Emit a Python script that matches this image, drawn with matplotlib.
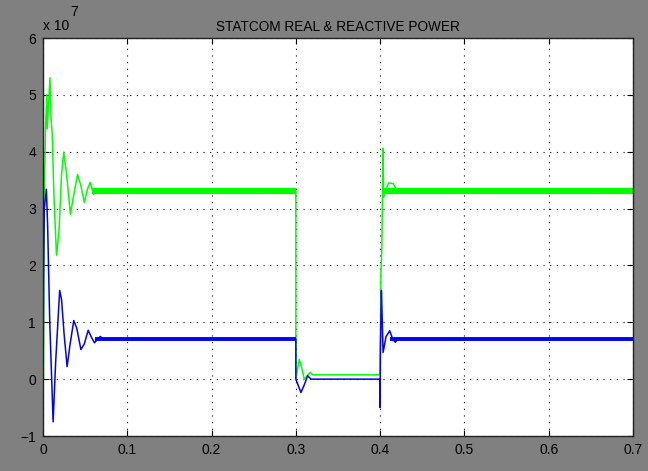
import numpy as np
import matplotlib
matplotlib.use("Agg")
import matplotlib.pyplot as plt

plt.rcParams['font.family'] = ['Liberation Sans', 'DejaVu Sans']

# values in units of 1e7
t_real = [0, 0.0005, 0.001, 0.002, 0.003, 0.0045, 0.005, 0.0065, 0.0083, 0.0095,
          0.011, 0.013, 0.016, 0.019, 0.022, 0.0246, 0.028, 0.0325, 0.036, 0.041,
          0.045, 0.049, 0.053, 0.056, 0.06, 0.064, 0.068, 0.072,
          0.3, 0.3, 0.304, 0.307, 0.31, 0.317, 0.32, 0.3995, 0.4, 0.401, 0.402,
          0.4035, 0.404, 0.406, 0.41, 0.4157, 0.42]
p_real = [0, 0, 2.0, 3.6, 4.4, 5.0, 4.4, 4.8, 5.3, 4.6,
          4.3, 3.2, 2.18, 2.6, 3.6, 3.99, 3.6, 2.9, 3.2, 3.6,
          3.4, 3.11, 3.35, 3.46, 3.25, 3.35, 3.28, 3.32,
          3.32, 0.0, 0.35, 0.2, 0.0, 0.12, 0.076, 0.076, 0.18, 1.88, 2.3,
          4.06, 3.2, 3.3, 3.45, 3.44, 3.3]

t_reac = [0, 0.0003, 0.0006, 0.0015, 0.004, 0.0055, 0.008, 0.012, 0.015, 0.0198,
          0.022, 0.025, 0.0286, 0.032, 0.0365, 0.04, 0.045, 0.049, 0.0536, 0.057,
          0.061, 0.068, 0.072,
          0.3, 0.3, 0.306, 0.31, 0.314, 0.318, 0.3995, 0.4, 0.4003, 0.4015, 0.402,
          0.4035, 0.407, 0.4114, 0.415, 0.418, 0.422]
p_reac = [0, 0.5, 1.8, 3.0, 3.34, 2.7, 1.0, -0.75, 0.3, 1.56,
          1.4, 0.8, 0.22, 0.6, 1.03, 0.9, 0.52, 0.62, 0.86, 0.75,
          0.64, 0.75, 0.70,
          0.71, 0.0, -0.235, -0.1, 0.06, 0.0, 0.0, -0.5, 0.5, 1.56, 1.3,
          0.47, 0.75, 0.85, 0.7, 0.65, 0.72]

# steady (rippled) stretches: start, end, level
real_steady = [(0.058, 0.3, 3.31), (0.405, 0.7, 3.31)]
reac_steady = [(0.062, 0.3, 0.71), (0.412, 0.7, 0.71)]

green = '#00ff00'
blue = '#0000ff'

fig = plt.figure(figsize=(6.48, 4.71), dpi=100, facecolor='#808080')
ax = fig.add_axes([43/648, 35/471, 590/648, 398/471])
ax.set_facecolor('white')

ax.plot(t_real, p_real, color=green, lw=1.1)
for a, b, v in real_steady:
    ax.plot([a, b], [v, v], color=green, lw=4.5, solid_capstyle='butt')
ax.plot(t_reac, p_reac, color=blue, lw=1.1)
for a, b, v in reac_steady:
    ax.plot([a, b], [v, v], color=blue, lw=2.8, solid_capstyle='butt')

ax.set_xlim(0, 0.7)
ax.set_ylim(-1, 6)
ax.set_xticks(np.arange(0, 0.71, 0.1))
ax.set_xticklabels(['0', '0.1', '0.2', '0.3', '0.4', '0.5', '0.6', '0.7'])
ax.set_yticks(range(-1, 7))
ax.tick_params(direction='in', top=True, right=True, length=4, width=0.8,
               labelsize=10, colors='black', pad=5)
ax.grid(True, color='black', linestyle=(0, (1, 5)), lw=0.8)
for s in ax.spines.values():
    s.set_color('#222222')
    s.set_linewidth(1.0)

ax.set_title('STATCOM REAL & REACTIVE POWER', fontsize=9.8, pad=5)
fig.text(43/648, 1 - 30/471, 'x 10', fontsize=10)
fig.text(70/648, 1 - 16/471, '7', fontsize=10)

fig.savefig('out.png', dpi=100, facecolor=fig.get_facecolor())
